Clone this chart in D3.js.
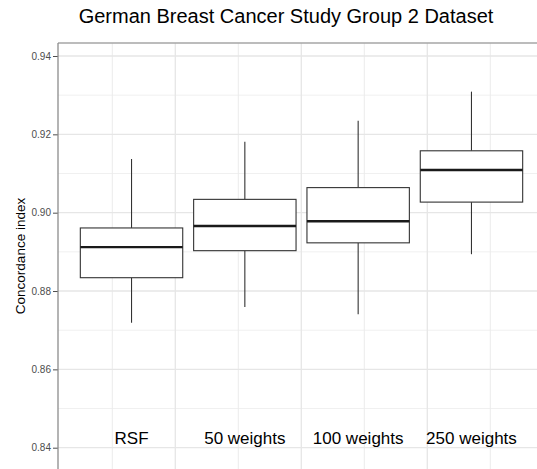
<!DOCTYPE html>
<html>
<head>
<meta charset="utf-8">
<script src="https://cdn.jsdelivr.net/npm/d3@7"></script>
<style>
  body { margin: 0; background: #fff; }
  svg { display: block; font-family: "Liberation Sans", Arial, sans-serif; }
</style>
</head>
<body>
<div class="canvas"></div>
<script>
// data
const groups = ['RSF', '50 weights', '100 weights', '250 weights'];
const whiskerLow  = [0.8719, 0.8759, 0.8741, 0.8894];
const q1          = [0.8834, 0.8903, 0.8923, 0.9027];
const median      = [0.8912, 0.8966, 0.8978, 0.9109];
const q3          = [0.8961, 0.9034, 0.9064, 0.9158];
const whiskerHigh = [0.9137, 0.9181, 0.9235, 0.9309];

const yTicks = [0.84, 0.86, 0.88, 0.90, 0.92, 0.94];
const yMinor = [0.85, 0.87, 0.89, 0.91, 0.93];
const xMajor = [1, 2, 3];
const xMinor = [0.5, 1.5, 2.5, 3.5];

const dims = { width: 537, height: 469 };
const panel = { left: 58, top: 43, right: 545, bottom: 469 };

const svg = d3.select('.canvas')
    .append('svg')
    .attr('width', dims.width)
    .attr('height', dims.height);

const x = d3.scaleBand()
    .domain(groups)
    .range([panel.left, panel.right])
    .paddingInner(0.0963)
    .paddingOuter(0.197);

const xGrid = d3.scaleLinear()
    .domain([0, 4])
    .range([49.3, 553.3]);

const y = d3.scaleLinear()
    .domain([0.84, 0.94])
    .range([447.7, 56]);

// grid
const grid = svg.append('g');
grid.selectAll('.hminor')
    .data(yMinor)
    .enter().append('line')
        .attr('x1', panel.left).attr('x2', dims.width)
        .attr('y1', d => y(d)).attr('y2', d => y(d))
        .attr('stroke', '#f0f0f0').attr('stroke-width', 1);
grid.selectAll('.vminor')
    .data(xMinor)
    .enter().append('line')
        .attr('x1', d => xGrid(d)).attr('x2', d => xGrid(d))
        .attr('y1', panel.top).attr('y2', dims.height)
        .attr('stroke', '#ececec').attr('stroke-width', 1);
grid.selectAll('.hmajor')
    .data(yTicks)
    .enter().append('line')
        .attr('x1', panel.left).attr('x2', dims.width)
        .attr('y1', d => y(d)).attr('y2', d => y(d))
        .attr('stroke', '#e6e6e6').attr('stroke-width', 1.3);
grid.selectAll('.vmajor')
    .data(xMajor)
    .enter().append('line')
        .attr('x1', d => xGrid(d)).attr('x2', d => xGrid(d))
        .attr('y1', panel.top).attr('y2', dims.height)
        .attr('stroke', '#e6e6e6').attr('stroke-width', 1.3);

// panel borders (top + left axis)
svg.append('line')
    .attr('x1', panel.left).attr('x2', dims.width)
    .attr('y1', panel.top).attr('y2', panel.top)
    .attr('stroke', '#a6a6a6').attr('stroke-width', 1.3);

const yAxis = d3.axisLeft(y)
    .tickValues(yTicks)
    .tickFormat(d3.format('.2f'))
    .tickSize(5)
    .tickPadding(2);

const axisG = svg.append('g')
    .attr('transform', `translate(${panel.left}, 0)`)
    .call(yAxis);
axisG.select('.domain').remove();
axisG.append('line')
    .attr('x1', 0).attr('x2', 0)
    .attr('y1', panel.top).attr('y2', dims.height)
    .attr('stroke', '#8c8c8c').attr('stroke-width', 1.3);
axisG.selectAll('.tick line').attr('stroke', '#4d4d4d').attr('stroke-width', 1);
axisG.selectAll('.tick text')
    .attr('fill', '#4d4d4d')
    .style('font-size', '10px')
    .style('font-family', '"Liberation Sans", Arial, sans-serif');

// boxes
const rows = groups.map((g, i) => ({
    group: g, lo: whiskerLow[i], q1: q1[i], med: median[i], q3: q3[i], hi: whiskerHigh[i]
}));

const boxes = svg.append('g').selectAll('g')
    .data(rows)
    .enter().append('g');

boxes.append('line')
    .attr('x1', d => x(d.group) + x.bandwidth() / 2)
    .attr('x2', d => x(d.group) + x.bandwidth() / 2)
    .attr('y1', d => y(d.hi)).attr('y2', d => y(d.q3))
    .attr('stroke', '#333').attr('stroke-width', 1.1);
boxes.append('line')
    .attr('x1', d => x(d.group) + x.bandwidth() / 2)
    .attr('x2', d => x(d.group) + x.bandwidth() / 2)
    .attr('y1', d => y(d.q1)).attr('y2', d => y(d.lo))
    .attr('stroke', '#333').attr('stroke-width', 1.1);
boxes.append('rect')
    .attr('x', d => x(d.group))
    .attr('width', x.bandwidth())
    .attr('y', d => y(d.q3))
    .attr('height', d => y(d.q1) - y(d.q3))
    .attr('fill', '#fff')
    .attr('stroke', '#333').attr('stroke-width', 1.1);
boxes.append('line')
    .attr('x1', d => x(d.group)).attr('x2', d => x(d.group) + x.bandwidth())
    .attr('y1', d => y(d.med)).attr('y2', d => y(d.med))
    .attr('stroke', '#1a1a1a').attr('stroke-width', 2.4);

// group labels inside panel
svg.append('g').selectAll('text')
    .data(groups)
    .enter().append('text')
        .attr('x', d => x(d) + x.bandwidth() / 2)
        .attr('y', 444)
        .attr('text-anchor', 'middle')
        .attr('fill', '#000')
        .style('font-size', '17px')
        .text(d => d);

// titles
svg.append('text')
    .attr('x', 286).attr('y', 23)
    .attr('text-anchor', 'middle')
    .style('font-size', '20px')
    .attr('fill', '#000')
    .text('German Breast Cancer Study Group 2 Dataset');

svg.append('text')
    .attr('transform', `translate(24.5, ${(panel.top + dims.height) / 2}) rotate(-90)`)
    .attr('text-anchor', 'middle')
    .style('font-size', '13.5px')
    .attr('fill', '#000')
    .text('Concordance index');
</script>
</body>
</html>
